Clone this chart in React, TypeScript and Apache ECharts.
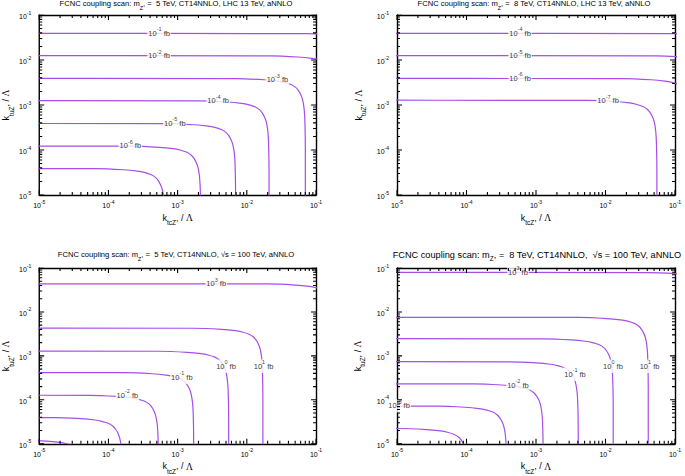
import React, { useEffect, useRef } from 'react';
import * as echarts from 'echarts';

// ---------------- data ----------------
const AXIS_MIN = 1e-5;
const AXIS_MAX = 1e-1;
const TICK_EXPONENTS = [-5, -4, -3, -2, -1];
const MAJOR_VALUES = [1e-5, 1e-4, 1e-3, 1e-2, 1e-1];
const MINOR_MULTIPLIERS = [2, 3, 4, 5, 6, 7, 8, 9];
const MINOR_DECADES = [1e-5, 1e-4, 1e-3, 1e-2];

// rounded-corner profile of every contour, in decades
// relative to (vertical asymptote x0, horizontal level y0)
const CORNER_DX = [-6, -1.0, -0.6, -0.4, -0.3, -0.2, -0.14, -0.1, -0.07, -0.045, -0.025, -0.012, -0.005, -0.001, 0];
const CORNER_DY = [0, -0.005, -0.03, -0.06, -0.09, -0.14, -0.2, -0.27, -0.35, -0.45, -0.6, -0.8, -1.1, -1.6, -8];

// Panel 1: mZ' = 5 TeV, LHC 13 TeV
const P1_Y0 = [0.039, 0.0125, 0.0039, 0.00125, 3.9e-4, 1.23e-4, 3.9e-5];
const P1_X0 = [0.7, 0.22, 0.0703, 0.021, 0.0069, 0.00216, 6.6e-4];
const P1_LABEL_EXP = ['-1', '-2', '-3', '-4', '-5', '-6'];
const P1_LABEL_X = [5.4e-4, 5.4e-4, 0.0277, 0.00385, 9.1e-4, 2.07e-4];
const P1_LABEL_Y = [0.039, 0.0125, 0.0036, 0.00125, 3.9e-4, 1.23e-4];

// Panel 2: mZ' = 8 TeV, LHC 13 TeV
const P2_Y0 = [0.039, 0.0125, 0.0039, 0.00128];
const P2_X0 = [1.7, 0.55, 0.18, 0.055];
const P2_LABEL_EXP = ['-4', '-5', '-6', '-7'];
const P2_LABEL_X = [5.9e-4, 5.9e-4, 5.9e-4, 0.0109];
const P2_LABEL_Y = [0.039, 0.0125, 0.0039, 0.00123];

// Panel 3: mZ' = 5 TeV, sqrt(s) = 100 TeV
const P3_Y0 = [0.0438, 0.0043, 0.00129, 4.2e-4, 1.28e-4, 3.98e-5, 1.23e-5];
const P3_X0 = [0.2, 0.0171, 0.00548, 0.00171, 5.3e-4, 1.6e-4, 5.0e-5];
const P3_LABEL_EXP = ['3', '1', '0', '-1', '-2'];
const P3_LABEL_X = [0.00361, 0.0175, 0.005, 0.00115, 1.88e-4];
const P3_LABEL_Y = [0.0438, 5.8e-4, 5.8e-4, 3.24e-4, 1.26e-4];

// Panel 4: mZ' = 8 TeV, sqrt(s) = 100 TeV
const P4_Y0 = [0.0796, 0.00757, 0.00247, 7.4e-4, 2.33e-4, 7.26e-5, 2.25e-5];
const P4_X0 = [0.41, 0.0413, 0.01294, 0.00406, 0.00127, 3.79e-4, 1.06e-4];
const P4_LABEL_EXP = ['3', '1', '0', '-1', '-2', '-3'];
const P4_LABEL_X = [5.5e-4, 0.043, 0.0128, 0.00364, 5.5e-4, 1.07e-5];
const P4_LABEL_Y = [0.0796, 5.8e-4, 5.8e-4, 3.85e-4, 2.15e-4, 7.26e-5];

const TITLE_HEAD = 'FCNC coupling scan: m';
const TITLE_SUB = 'Z';
const TITLE_TAILS = [
  ', =  5 TeV, CT14NNLO, LHC 13 TeV, aNNLO',
  ', =  8 TeV, CT14NNLO, LHC 13 TeV, aNNLO',
  ', =  5 TeV, CT14NNLO, \u221as = 100 TeV, aNNLO',
  ', =  8 TeV, CT14NNLO,  \u221as = 100 TeV, aNNLO',
];
const X_NAME_SUB = 'tcZ';
const Y_NAME_SUB = 'tuZ';

// ---------------- styling ----------------
const PURPLE = '#a64ee8';
const SANS = '"Liberation Sans", Arial, Helvetica, sans-serif';
const SERIF = '"Liberation Serif", "Times New Roman", serif';
const FRAME_W = 1.4;
const TICK_W = 1.1;
const MAJOR_LEN = 5;
const MINOR_LEN = 3;

function tok(fontSize: number, top: number, total: number, family = SANS) {
  return {
    fontSize,
    fontFamily: family,
    color: '#000',
    height: fontSize,
    lineHeight: total,
    padding: [top, 0, total - fontSize - top, 0],
  };
}

const TICK_RICH = { b: tok(7, 3, 10), s: tok(5, 0, 10) };
const LABEL_RICH = { b: tok(7.5, 3, 10.5), s: tok(5.5, 0, 10.5) };
const NAME_RICH = { k: tok(9, 0, 13), u: tok(6.5, 6.5, 13), l: tok(9.5, 0, 13, SERIF) };

const PANEL_LAYOUT = [
  { left: 36, top: 15, width: 280, height: 180, titleX: 176, titleY: 0, titleSize: 7.6, yGap: 25 },
  { left: 397, top: 15, width: 278, height: 180, titleX: 534, titleY: 0, titleSize: 7.6, yGap: 30 },
  { left: 36, top: 268, width: 280, height: 179, titleX: 176, titleY: 251, titleSize: 7.6, yGap: 25 },
  { left: 397, top: 268, width: 278, height: 179, titleX: 537, titleY: 250, titleSize: 9.2, yGap: 31 },
];

const PANEL_DATA = [
  { y0: P1_Y0, x0: P1_X0, le: P1_LABEL_EXP, lx: P1_LABEL_X, ly: P1_LABEL_Y },
  { y0: P2_Y0, x0: P2_X0, le: P2_LABEL_EXP, lx: P2_LABEL_X, ly: P2_LABEL_Y },
  { y0: P3_Y0, x0: P3_X0, le: P3_LABEL_EXP, lx: P3_LABEL_X, ly: P3_LABEL_Y },
  { y0: P4_Y0, x0: P4_X0, le: P4_LABEL_EXP, lx: P4_LABEL_X, ly: P4_LABEL_Y },
];

function contourPoints(x0: number, y0: number) {
  return CORNER_DX.map((dx, k) => [x0 * Math.pow(10, dx), y0 * Math.pow(10, CORNER_DY[k])]);
}

const tickFormatter = (v: number) => {
  const e = Math.round(Math.log10(v));
  return TICK_EXPONENTS.includes(e) ? `{b|10}{s|${e}}` : '';
};

const MINOR_VALUES: number[] = [];
MINOR_DECADES.forEach((d) => MINOR_MULTIPLIERS.forEach((m) => MINOR_VALUES.push(d * m)));

// tick marks on the four sides as short line pieces placed through the axes
function tickSegments(side: 'b' | 't' | 'l' | 'r') {
  const out: any[] = [];
  const yIn = (len: number) => Math.pow(10, len / 45);
  const xIn = (len: number) => Math.pow(10, len / 70);
  const add = (v: number, len: number) => {
    if (side === 'b') out.push([v, AXIS_MIN], [v, AXIS_MIN * yIn(len)], [v, '-']);
    else if (side === 't') out.push([v, AXIS_MAX], [v, AXIS_MAX / yIn(len)], [v, '-']);
    else if (side === 'l') out.push([AXIS_MIN, v], [AXIS_MIN * xIn(len), v], ['-', v]);
    else out.push([AXIS_MAX, v], [AXIS_MAX / xIn(len), v], ['-', v]);
  };
  MAJOR_VALUES.forEach((v) => add(v, MAJOR_LEN));
  MINOR_VALUES.forEach((v) => add(v, MINOR_LEN));
  return out;
}

function buildOption() {
  const grid: any[] = [];
  const xAxis: any[] = [];
  const yAxis: any[] = [];
  const series: any[] = [];
  const graphic: any[] = [];

  const axisBase = {
    type: 'log',
    logBase: 10,
    min: AXIS_MIN,
    max: AXIS_MAX,
    axisLine: { show: true, lineStyle: { color: '#000', width: FRAME_W } },
    axisTick: { show: false },
    splitLine: { show: false },
    minorTick: { show: false },
  };

  PANEL_LAYOUT.forEach((L, i) => {
    const D = PANEL_DATA[i];
    grid.push({ left: L.left, top: L.top, width: L.width, height: L.height, containLabel: false });

    xAxis.push({
      ...axisBase,
      gridIndex: i,
      position: 'bottom',
      axisLabel: { margin: 4, formatter: tickFormatter, rich: TICK_RICH },
      name: `{k|k}{u|${X_NAME_SUB}}{k|, / }{l|\u039b}`,
      nameLocation: 'middle',
      nameGap: 18,
      nameTextStyle: { rich: NAME_RICH },
    });
    xAxis.push({ ...axisBase, gridIndex: i, position: 'top', axisLabel: { show: false } });
    yAxis.push({
      ...axisBase,
      gridIndex: i,
      position: 'left',
      axisLabel: { margin: 8, formatter: tickFormatter, rich: TICK_RICH },
      name: `{k|k}{u|${Y_NAME_SUB}}{k|, / }{l|\u039b}`,
      nameLocation: 'middle',
      nameRotate: 90,
      nameGap: L.yGap,
      nameTextStyle: { rich: NAME_RICH },
    });
    yAxis.push({ ...axisBase, gridIndex: i, position: 'right', axisLabel: { show: false } });

    const xi = 2 * i;
    D.y0.forEach((y0, k) => {
      series.push({
        type: 'line',
        xAxisIndex: xi,
        yAxisIndex: xi,
        data: contourPoints(D.x0[k], y0),
        showSymbol: false,
        symbol: 'none',
        smooth: 0.3,
        clip: true,
        silent: true,
        z: 2,
        lineStyle: { color: PURPLE, width: 1.2 },
      });
    });

    series.push({
      type: 'scatter',
      xAxisIndex: xi,
      yAxisIndex: xi,
      symbolSize: 1,
      itemStyle: { color: 'rgba(0,0,0,0)' },
      silent: true,
      z: 5,
      data: D.le.map((e, k) => [D.lx[k], D.ly[k], e]),
      label: {
        show: true,
        position: 'inside',
        formatter: (p: any) => `{b|10}{s|${p.value[2]}}{b| fb}`,
        rich: LABEL_RICH,
        backgroundColor: '#fff',
        padding: [0, 1, 3, 1],
      },
    });

    (['b', 't', 'l', 'r'] as const).forEach((side) => {
      series.push({
        type: 'line',
        xAxisIndex: xi,
        yAxisIndex: xi,
        showSymbol: false,
        symbol: 'none',
        connectNulls: false,
        clip: true,
        silent: true,
        z: 10,
        lineStyle: { color: '#000', width: TICK_W },
        data: tickSegments(side),
      });
    });

    const ts = L.titleSize;
    graphic.push({
      type: 'text',
      x: L.titleX,
      y: L.titleY,
      silent: true,
      style: {
        text: `{t|${TITLE_HEAD}}{s|${TITLE_SUB}}{t|${TITLE_TAILS[i]}}`,
        align: 'center',
        verticalAlign: 'top',
        rich: {
          t: tok(ts, 0, ts + 3),
          s: tok(ts * 0.7, ts + 3 - ts * 0.7, ts + 3),
        },
      },
    });
  });

  return { animation: false, backgroundColor: '#fff', grid, xAxis, yAxis, series, graphic };
}

export default function App() {
  const ref = useRef<HTMLDivElement>(null);
  useEffect(() => {
    if (!ref.current) return;
    const chart = echarts.init(ref.current, undefined, { renderer: 'svg' });
    chart.setOption(buildOption() as any);
    return () => chart.dispose();
  }, []);
  return <div ref={ref} style={{ position: 'fixed', left: 0, top: 0, width: 685, height: 476 }} />;
}
